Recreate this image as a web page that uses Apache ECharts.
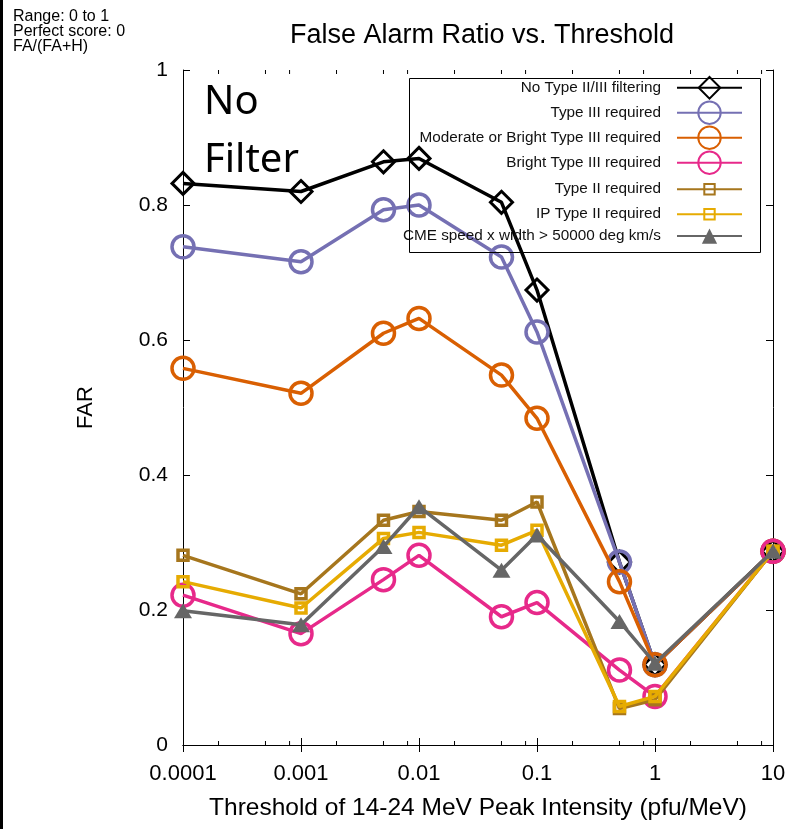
<!DOCTYPE html>
<html><head><meta charset="utf-8">
<script src="https://cdn.jsdelivr.net/npm/echarts@6/dist/echarts.min.js"></script>
<style>html,body{margin:0;padding:0;background:#fff}#c{width:794px;height:829px}</style>
</head><body><div id="c"></div>
<script>
const thresholds = [0.0001, 0.001, 0.005, 0.01, 0.05, 0.1, 0.5, 1, 10];
const noFilter  = [0.832, 0.820, 0.864, 0.869, 0.804, 0.674, 0.271, 0.119, 0.287];
const typeIII   = [0.738, 0.716, 0.793, 0.800, 0.723, 0.612, 0.271, 0.119, 0.287];
const modBright = [0.558, 0.521, 0.610, 0.632, 0.548, 0.484, 0.242, 0.119, 0.287];
const bright    = [0.222, 0.165, 0.245, 0.281, 0.190, 0.211, 0.111, 0.072, 0.287];
const typeII    = [0.281, 0.224, 0.333, 0.346, 0.333, 0.360, 0.054, 0.067, 0.287];
const ipTypeII  = [0.242, 0.203, 0.306, 0.315, 0.296, 0.318, 0.057, 0.072, 0.287];
const cme       = [0.199, 0.178, 0.294, 0.353, 0.259, 0.311, 0.183, 0.121, 0.287];
const seriesNames = ['No Type II/III filtering','Type III required','Moderate or Bright Type III required',
  'Bright Type III required','Type II required','IP Type II required','CME speed x width > 50000 deg km/s'];
const minorTicks = [2e-4,5e-4,8e-4,2e-3,5e-3,8e-3,2e-2,5e-2,8e-2,0.2,0.5,0.8,2,5,8];
const yTicks = [0, 0.2, 0.4, 0.6, 0.8, 1];

const FONT = '"Liberation Sans", Arial, sans-serif';
const chart = echarts.init(document.getElementById('c'), null, {renderer:'canvas'});
const pair = arr => thresholds.map((x,i)=>[x, arr[i]]);

const styles = [
  {data:noFilter,  color:'#000000', symbol:'diamond', size:22, bw:3,   fill:'none', lw:3.5, lh:27},
  {data:typeIII,   color:'#7570b3', symbol:'circle',  size:22, bw:3.5, fill:'none', lw:3.5, lh:28},
  {data:modBright, color:'#d95f02', symbol:'circle',  size:22, bw:3.5, fill:'none', lw:3.5, lh:28},
  {data:bright,    color:'#e7298a', symbol:'circle',  size:22, bw:3.5, fill:'none', lw:3.5, lh:28},
  {data:typeII,    color:'#a6761d', symbol:'rect',    size:10, bw:3.5, fill:'none', lw:3.5, lh:13},
  {data:ipTypeII,  color:'#e6ab02', symbol:'rect',    size:10, bw:3.5, fill:'none', lw:3.5, lh:13},
  {data:cme,       color:'#666666', symbol:'triangle',size:[18,15], bw:0, fill:'#666666', lw:3.5, lh:19}
];

const series = styles.map((s,i)=>({
  type:'line', name:seriesNames[i], data:pair(s.data), color:s.color,
  symbol:s.symbol, symbolSize:s.size, showAllSymbol:true,
  lineStyle:{color:s.color, width:s.lw},
  itemStyle:{color:s.fill, borderColor:s.color, borderWidth:s.bw, opacity:1},
  emphasis:{disabled:true}, animation:false, z:2+i, silent:true
}));

// minor log ticks (inside, bottom and top)
series.push({
  type:'custom', name:'minor', silent:true, animation:false, z:20,
  data: minorTicks.map(v=>[v]),
  renderItem:(params, api)=>{
    const b = api.coord([api.value(0), 0]);
    const t = api.coord([api.value(0), 1]);
    return {type:'group', children:[
      {type:'line', shape:{x1:b[0], y1:b[1], x2:b[0], y2:b[1]-4}, style:{stroke:'#000', lineWidth:1}},
      {type:'line', shape:{x1:t[0], y1:t[1], x2:t[0], y2:t[1]+4}, style:{stroke:'#000', lineWidth:1}}
    ]};
  },
  encode:{x:0}
});

// legends: one per series (different symbol sizes); icon on the right, text right-aligned
const legendTopCenters = [88, 113, 138, 163, 188, 213, 238];
const legends = styles.map((s,i)=>({
  data:[seriesNames[i]], orient:'vertical', align:'right', right:51, top: legendTopCenters[i]-s.lh/2,
  padding:0, itemWidth:65, itemHeight:s.lh, selectedMode:false, itemGap:0,
  formatter: name => name + '{sp|}',
  textStyle:{fontFamily:FONT, fontSize:15.3, color:'#111', rich:{sp:{width:11}}}
}));

const option = {
  backgroundColor:'#fff',
  animation:false,
  title:{text:'False Alarm Ratio vs. Threshold', left:477, top:17, textAlign:'center',
    textStyle:{fontFamily:FONT, fontSize:27, fontWeight:'normal', color:'#000'}},
  legend: legends,
  grid:{left:183, right:21, top:70, bottom:84, show:false},
  xAxis:[
    {type:'log', logBase:10, min:0.0001, max:10, position:'bottom',
     name:'Threshold of 14-24 MeV Peak Intensity (pfu/MeV)', nameLocation:'middle', nameGap:51,
     nameTextStyle:{fontFamily:FONT, fontSize:24.5, color:'#000'},
     axisLine:{show:true, lineStyle:{color:'#000', width:1}},
     axisTick:{show:true, inside:true, length:7, lineStyle:{color:'#000'}},
     minorTick:{show:false}, splitLine:{show:false},
     axisLabel:{fontFamily:FONT, fontSize:22, color:'#000', margin:18,
       formatter:v=>String(parseFloat(Number(v).toPrecision(6)))}},
    {type:'log', logBase:10, min:0.0001, max:10, position:'top',
     axisLine:{show:true, lineStyle:{color:'#000', width:1}},
     axisTick:{show:true, inside:true, length:7, lineStyle:{color:'#000'}},
     axisLabel:{show:false}, splitLine:{show:false}}
  ],
  yAxis:[
    {type:'value', min:0, max:1, interval:0.2, position:'left',
     name:'FAR', nameLocation:'middle', nameGap:86,
     nameTextStyle:{fontFamily:FONT, fontSize:22, color:'#000'},
     axisLine:{show:true, lineStyle:{color:'#000', width:1}},
     axisTick:{show:true, inside:true, length:7, lineStyle:{color:'#000'}},
     splitLine:{show:false},
     axisLabel:{fontFamily:FONT, fontSize:21, color:'#000', margin:15,
       formatter:v=>String(parseFloat(Number(v).toPrecision(6)))}},
    {type:'value', min:0, max:1, interval:0.2, position:'right',
     axisLine:{show:true, lineStyle:{color:'#000', width:1}},
     axisTick:{show:true, inside:true, length:7, lineStyle:{color:'#000'}},
     axisLabel:{show:false}, splitLine:{show:false}}
  ],
  graphic:[
    {type:'text', left:13, top:9, style:{text:'Range: 0 to 1\nPerfect score: 0\nFA/(FA+H)',
      font:'16px '+FONT, fill:'#000', lineHeight:15}},
    {type:'text', left:204, top:74, style:{text:'No\nFilter', font:'40px "Noto Sans", sans-serif',
      fill:'#000', lineHeight:58}},
    {type:'rect', left:407, top:76, shape:{width:351, height:174}, style:{fill:'none', stroke:'#000', lineWidth:1}, z:50},
    {type:'rect', left:0, top:0, shape:{width:3, height:829}, style:{fill:'#000'}}
  ],
  series
};
chart.setOption(option);
</script></body></html>
